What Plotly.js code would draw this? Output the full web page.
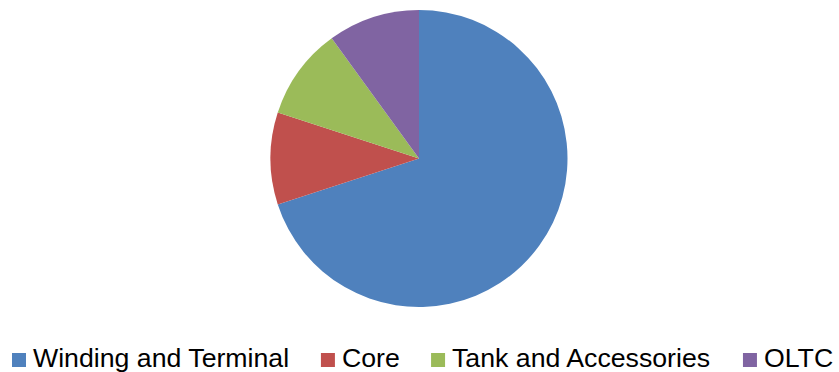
<!DOCTYPE html>
<html>
<head>
<meta charset="utf-8">
<script src="https://cdn.plot.ly/plotly-3.0.1.min.js"></script>
<style>html,body{margin:0;padding:0;background:#fff;}#chart{width:839px;height:372px;}</style>
</head>
<body>
<div id="chart"></div>
<script>
const categories = ["Winding and Terminal", "Core", "Tank and Accessories", "OLTC"];
const shares = [70, 10, 10, 10];
const sliceColors = ["#4F81BD", "#C0504D", "#9BBB59", "#8064A2"];

const W = 839, H = 372;
const cx = 419, cy = 158.5, R = 148.5;
const FONT = "Liberation Sans, Arial, sans-serif";
const FS = 26.7;

const trace = {
  type: "pie",
  labels: categories,
  values: shares,
  sort: false,
  direction: "clockwise",
  rotation: 0,
  textinfo: "none",
  hoverinfo: "label+percent",
  showlegend: false,
  marker: {colors: sliceColors, line: {width: 0}},
  domain: {
    x: [(cx - R) / W, (cx + R) / W],
    y: [(H - cy - R) / H, (H - cy + R) / H]
  }
};

// legend drawn as layout decorations, laid out by measured text width
const ctx = document.createElement("canvas").getContext("2d");
ctx.font = FS + "px 'Liberation Sans'";
const shapes = [], annotations = [];
const symSize = 14, symTop = 353, textGap = 6, itemGap = 32.3, baseline = 368;
let x = 12;
categories.forEach((name, i) => {
  shapes.push({
    type: "rect", xref: "paper", yref: "paper",
    x0: x / W, x1: (x + symSize) / W,
    y0: 1 - (symTop + symSize) / H, y1: 1 - symTop / H,
    fillcolor: sliceColors[i], line: {width: 0}
  });
  const tx = x + symSize + textGap;
  annotations.push({
    xref: "paper", yref: "paper",
    x: tx / W, xanchor: "left",
    y: 1 - (baseline + 0.212 * FS) / H, yanchor: "bottom",
    text: name, showarrow: false,
    font: {family: FONT, size: FS, color: "#000"},
    borderpad: 0
  });
  x = tx + ctx.measureText(name).width + itemGap;
});

const layout = {
  width: W, height: H,
  margin: {l: 0, r: 0, t: 0, b: 0, autoexpand: false},
  paper_bgcolor: "#fff",
  showlegend: false,
  shapes: shapes,
  annotations: annotations,
  font: {family: FONT}
};

Plotly.newPlot("chart", [trace], layout, {displayModeBar: false, staticPlot: true});
</script>
</body>
</html>
